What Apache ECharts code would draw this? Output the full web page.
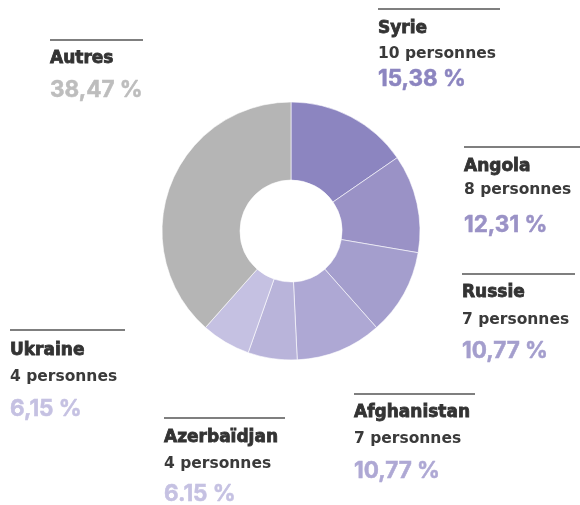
<!DOCTYPE html>
<html>
<head>
<meta charset="utf-8">
<script src="https://cdn.jsdelivr.net/npm/echarts@6/dist/echarts.min.js"></script>
<style>
html, body { margin: 0; padding: 0; background: #fff; }
#chart { width: 580px; height: 505px; }
</style>
</head>
<body>
<div id="chart"></div>
<script>
// données
var pays = ['Syrie', 'Angola', 'Russie', 'Afghanistan', 'Azerbaïdjan', 'Ukraine', 'Autres'];
var personnes = [10, 8, 7, 7, 4, 4, 25];
var pourcentages = ['15,38 %', '12,31 %', '10,77 %', '10,77 %', '6.15 %', '6,15 %', '38,47 %'];
var couleurs = ['#8c85c0', '#9a92c6', '#a49ecd', '#aea8d4', '#b9b4da', '#c5c1e2', '#b5b5b5'];
var couleursTexte = ['#8c85c0', '#9a92c6', '#a49ecd', '#aea8d4', '#c5c1e2', '#c5c1e2', '#bdbdbd'];

// position des étiquettes : x, ligne, nom, personnes, pourcentage, fin de ligne
var positions = [
	[378, 9, 29, 54, 79, 500],
	[464, 147, 167, 190, 225, 580],
	[462, 274, 293, 320, 351, 575],
	[354, 394, 413, 439, 471, 475],
	[164, 418, 438, 464, 494, 285],
	[10, 330, 351, 377, 409, 125],
	[50, 40, 59, 0, 90, 143]
];

var graphics = [];
pays.forEach(function(p, i) {
	var pos = positions[i];
	graphics.push({
		type: 'line',
		shape: { x1: pos[0], y1: pos[1], x2: pos[5], y2: pos[1] },
		style: { stroke: '#555', lineWidth: 1.5 }
	});
	graphics.push({
		type: 'text', x: pos[0], y: pos[2],
		style: {
			text: p, fill: '#333', stroke: '#333', lineWidth: 0.8,
			font: 'bold 17px "DejaVu Sans"', textVerticalAlign: 'middle'
		}
	});
	if (p !== 'Autres') {
		graphics.push({
			type: 'text', x: pos[0], y: pos[3],
			style: { text: personnes[i] + ' personnes', fill: '#3a3a3a', font: 'bold 15.5px "DejaVu Sans"', textVerticalAlign: 'middle' }
		});
	}
	graphics.push({
		type: 'text', x: pos[0], y: pos[4],
		style: {
			text: pourcentages[i], fill: couleursTexte[i], stroke: couleursTexte[i], lineWidth: 0.5,
			font: 'bold 22.5px Inter', textVerticalAlign: 'middle'
		}
	});
});

var chart = echarts.init(document.getElementById('chart'));
var option = {
	animation: false,
	graphic: graphics,
	series: [{
		type: 'pie',
		center: [291, 231],
		radius: [51, 129],
		startAngle: 90,
		clockwise: true,
		label: { show: false },
		labelLine: { show: false },
		itemStyle: { borderColor: '#fff', borderWidth: 0.6 },
		emphasis: { disabled: true },
		data: pays.map(function(p, i) {
			return { name: p, value: personnes[i], itemStyle: { color: couleurs[i] } };
		})
	}]
};
chart.setOption(option);
</script>
</body>
</html>
